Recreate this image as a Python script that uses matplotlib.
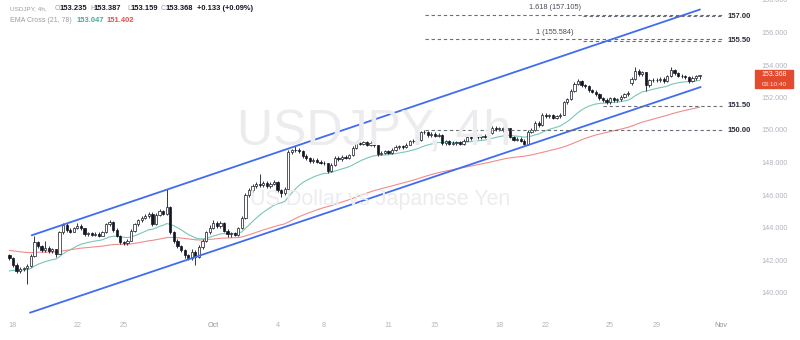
import numpy as np
import matplotlib.pyplot as plt
from matplotlib.patches import Rectangle

plt.rcParams['font.family'] = ['Liberation Sans', 'DejaVu Sans']

# USDJPY 4h closes (bar 0 = Sep 17 late session)
closes = [
    142.10, 141.70, 141.30, 141.45, 141.50, 141.65, 142.25, 143.10, 142.85, 142.60,
    142.75, 142.55, 142.65, 142.40, 143.70, 144.15, 143.85, 143.75, 143.95, 144.10,
    143.95, 143.60, 143.65, 143.55, 143.60, 143.50, 143.70, 144.20, 144.35, 143.85,
    143.50, 143.10, 143.05, 143.20, 143.80, 144.20, 144.45, 144.60, 144.70, 144.85,
    144.20, 144.80, 145.00, 144.85, 145.25, 143.70, 143.20, 142.85, 142.60, 142.30,
    142.10, 142.50, 142.20, 142.80, 143.20, 143.70, 144.00, 144.30, 144.10, 144.30,
    143.80, 143.60, 143.65, 143.55, 143.95, 144.60, 146.00, 146.30, 146.55, 146.65,
    146.60, 146.75, 146.55, 146.70, 146.80, 146.30, 146.10, 146.40, 148.65, 148.75,
    148.80, 148.70, 148.40, 148.25, 148.10, 148.15, 148.05, 148.00, 147.95, 147.45,
    147.85, 148.30, 148.20, 148.35, 148.30, 148.45, 148.90, 149.20, 149.15, 149.25,
    149.10, 149.20, 149.05, 148.55, 148.60, 148.70, 148.60, 148.80, 148.95, 149.00,
    148.95, 149.10, 149.30, 149.35, 149.40, 149.85, 149.90, 149.70, 149.75, 149.65,
    149.70, 149.20, 149.30, 149.15, 149.20, 149.25, 149.15, 149.35, 149.55, 149.50,
    149.60, 149.55, 149.65, 149.60, 149.80, 150.15, 150.05, 150.10, 150.00, 150.10,
    149.60, 149.40, 149.45, 149.35, 149.15, 149.90, 150.00, 150.45, 150.30, 150.95,
    150.85, 150.90, 150.75, 150.85, 150.95, 151.70, 151.90, 152.40, 152.85, 153.00,
    152.75, 152.70, 152.45, 152.35, 152.20, 151.95, 151.85, 151.70, 151.95, 151.85,
    151.90, 152.05, 152.20, 152.30, 153.15, 153.65, 153.45, 153.55, 152.75, 153.05,
    153.10, 153.05, 153.15, 153.00, 153.30, 153.70, 153.50, 153.35, 153.30, 153.25,
    153.00, 153.20, 153.30, 153.368,
]
highs = [
    142.40, 142.20, 141.80, 141.55, 141.60, 141.75, 142.35, 143.50, 143.20, 142.95,
    143.20, 142.85, 142.75, 142.70, 143.80, 144.30, 144.25, 143.95, 144.05, 144.30,
    144.20, 144.00, 143.75, 143.75, 143.70, 143.70, 143.80, 144.30, 144.45, 144.40,
    143.95, 143.55, 143.20, 143.30, 143.90, 144.30, 144.55, 144.70, 144.85, 144.95,
    144.95, 144.90, 145.15, 145.10, 146.40, 145.35, 143.80, 143.30, 142.95, 142.70,
    142.40, 142.65, 142.60, 142.90, 143.30, 143.80, 144.15, 144.45, 144.40, 144.40,
    144.35, 143.90, 143.75, 143.75, 144.05, 144.70, 146.10, 146.45, 146.65, 146.80,
    147.30, 146.85, 146.85, 146.80, 146.95, 146.85, 146.40, 146.50, 148.75, 148.85,
    149.00, 148.90, 148.75, 148.50, 148.35, 148.25, 148.25, 148.15, 148.10, 148.00,
    147.95, 148.40, 148.40, 148.45, 148.45, 148.55, 149.00, 149.30, 149.30, 149.35,
    149.35, 149.30, 149.30, 149.10, 148.70, 148.80, 148.80, 148.90, 149.05, 149.10,
    149.10, 149.20, 149.40, 149.45, 149.55, 149.95, 150.00, 149.95, 149.85, 149.85,
    149.80, 149.75, 149.40, 149.40, 149.30, 149.35, 149.35, 149.45, 149.65, 149.65,
    149.70, 149.70, 149.75, 149.75, 149.90, 150.25, 150.25, 150.20, 150.20, 150.20,
    150.15, 149.65, 149.55, 149.55, 149.45, 150.00, 150.10, 150.55, 150.55, 151.05,
    151.05, 151.00, 151.00, 150.95, 151.05, 151.80, 152.00, 152.50, 152.95, 153.15,
    153.05, 152.85, 152.75, 152.55, 152.45, 152.25, 152.05, 151.95, 152.05, 152.05,
    152.00, 152.15, 152.30, 152.40, 153.25, 153.85, 153.75, 153.65, 153.60, 153.15,
    153.20, 153.20, 153.25, 153.25, 153.40, 153.85, 153.75, 153.55, 153.45, 153.40,
    153.30, 153.30, 153.40, 153.387,
]
lows = [
    142.00, 141.60, 141.20, 141.20, 141.35, 140.50, 141.60, 142.20, 142.75, 142.50,
    142.50, 142.45, 142.45, 142.20, 142.35, 143.60, 143.75, 143.65, 143.70, 143.90,
    143.85, 143.50, 143.50, 143.45, 143.45, 143.40, 143.45, 143.65, 144.10, 143.75,
    143.40, 143.00, 142.95, 142.95, 143.15, 143.75, 144.10, 144.35, 144.50, 144.60,
    144.10, 144.15, 144.70, 144.75, 144.80, 143.60, 143.05, 142.75, 142.50, 142.15,
    142.00, 142.00, 141.70, 142.10, 142.70, 143.10, 143.60, 143.90, 144.00, 144.00,
    143.70, 143.40, 143.40, 143.45, 143.50, 143.90, 144.55, 145.90, 146.20, 146.45,
    146.50, 146.50, 146.45, 146.45, 146.60, 146.20, 145.90, 146.00, 146.35, 148.55,
    148.65, 148.60, 148.30, 148.15, 148.00, 148.00, 147.95, 147.90, 147.85, 147.35,
    147.40, 147.80, 148.10, 148.10, 148.20, 148.20, 148.40, 148.85, 149.05, 149.05,
    149.00, 149.00, 148.95, 148.40, 148.45, 148.50, 148.50, 148.55, 148.70, 148.85,
    148.85, 148.90, 149.05, 149.20, 149.25, 149.35, 149.75, 149.60, 149.60, 149.55,
    149.55, 149.10, 149.10, 149.05, 149.05, 149.10, 149.05, 149.10, 149.30, 149.40,
    149.40, 149.45, 149.45, 149.50, 149.55, 149.75, 149.95, 149.95, 149.90, 149.90,
    149.50, 149.30, 149.30, 149.25, 149.05, 149.10, 149.80, 149.95, 150.20, 150.25,
    150.75, 150.75, 150.65, 150.65, 150.75, 150.90, 151.60, 151.85, 152.35, 152.75,
    152.65, 152.60, 152.35, 152.25, 152.10, 151.85, 151.75, 151.60, 151.60, 151.75,
    151.75, 151.80, 151.95, 152.10, 152.80, 153.10, 153.35, 153.35, 152.40, 152.65,
    152.95, 152.95, 152.95, 152.90, 152.95, 153.25, 153.40, 153.25, 153.20, 153.15,
    152.90, 152.95, 153.10, 153.159,
]
first_open = 142.30
gap_opens = {174: 152.90}          # weekend gap after the Japanese election

# EMA values at the left edge of the chart (history before the window)
ema_fast_seed = 141.25
ema_slow_seed = 142.60

tick_pos = [1, 19, 32, 57, 75, 88, 106, 119, 137, 150, 168, 181, 199]
tick_lab = ["18", "22", "25", "Oct", "4", "8", "11", "15", "18", "22", "25", "29", "Nov"]

# channel trend lines (bar index, price)
upper_x, upper_y = [6.23, 193.12], [143.52, 157.415]
lower_x, lower_y = [5.75, 193.32], [138.757, 152.646]

fib_prices = [157.105, 155.584]
fib_labels = ["1.618 (157.105)", "1 (155.584)"]
level_prices = [157.00, 155.50, 151.50, 150.00]
level_labels = ["157.00", "155.50", "151.50", "150.00"]
level_starts = [160.4, 160.4, 166.0, 116.2]

c = np.array(closes)
o = np.array([first_open] + closes[:-1])
for k, v in gap_opens.items():
    o[k] = v
h = np.array(highs)
l = np.array(lows)
x = np.arange(len(c))


def ema(vals, span, seed):
    a = 2.0 / (span + 1)
    out, e = [], seed
    for v in vals:
        e = e + a * (v - e)
        out.append(e)
    return np.array(out)


ema21 = ema(c, 21, ema_fast_seed)
ema78 = ema(c, 78, ema_slow_seed)

fig = plt.figure(figsize=(8, 3.4), dpi=100)
ax = fig.add_axes([0, 24 / 340, 752 / 800, 316 / 340])
ax.set_xlim(-2.636, 207.67)
ax.set_ylim(158.0 - 316 / 16.25, 158.0)
for s in ax.spines.values():
    s.set_visible(False)

# watermark
fig.text(374 / 800, 1 - 132 / 340, "USDJPY, 4h", fontsize=36, color="#ececee",
         ha="center", va="center", zorder=0)
fig.text(380 / 800, 1 - 199 / 340, "US Dollar vs Japanese Yen", fontsize=15.5,
         color="#ececee", ha="center", va="center", zorder=0)

# EMA cross
ax.plot(x, ema21, color="#79c6b8", lw=0.8, zorder=2)
ax.plot(x, ema78, color="#f08c8c", lw=0.8, zorder=2)

# candles (hollow style)
ink = "#131722"
up = c >= o
ax.vlines(x, l, h, color=ink, lw=0.6, zorder=3)
ax.bar(x[up], (c - o)[up], bottom=o[up], width=0.62, color="white",
       edgecolor=ink, lw=0.5, zorder=4)
ax.bar(x[~up], (o - c)[~up], bottom=c[~up], width=0.62, color=ink,
       edgecolor=ink, lw=0.5, zorder=4)

# channel
ax.plot(upper_x, upper_y, color="#3f6cf2", lw=1.3, zorder=5, solid_capstyle="round")
ax.plot(lower_x, lower_y, color="#3f6cf2", lw=1.3, zorder=5, solid_capstyle="round")

# fib extension + horizontal levels
dash_col = "#6b6e78"
for p, lab in zip(fib_prices, fib_labels):
    ax.plot([116.2, 199.3], [p, p], color=dash_col, lw=0.8, dashes=(3, 2.5), zorder=5)
    ax.text(152.6, p + 0.42, lab, fontsize=5.3, color="#4a4d57", ha="center", va="center")
for p, lab, x0 in zip(level_prices, level_labels, level_starts):
    ax.plot([x0, 199.3], [p, p], color=dash_col, lw=0.8, dashes=(3, 2.5), zorder=5)
    ax.text(200.9, p, lab, fontsize=5.5, color="#2a2e39", ha="left", va="center",
            fontweight="semibold")

# axes ticks
ax.yaxis.tick_right()
yt = np.arange(140, 159, 2)
ax.set_yticks(yt)
ax.set_yticklabels([f"{v:.3f}" for v in yt], fontsize=5.2, color="#b2b5be")
ax.tick_params(axis="y", length=0, pad=7)
ax.set_xticks(tick_pos)
ax.set_xticklabels(tick_lab, fontsize=5.2, color="#b2b5be")
for t in ax.get_xticklabels():
    if t.get_text() in ("Oct", "Nov"):
        t.set_color("#8f939e")
ax.tick_params(axis="x", length=0, pad=4.5)

# last price tag
fig.patches.append(Rectangle((755 / 800, 1 - 88 / 340), 38 / 800, 18 / 340,
                             transform=fig.transFigure, color="#e34a2e", zorder=10))
fig.text(774 / 800, 1 - 75 / 340, "153.368", fontsize=5, color="white",
         ha="center", va="center", zorder=11)
fig.text(774 / 800, 1 - 84 / 340, "03:10:40", fontsize=4.6, color="#fde3dc",
         ha="center", va="center", zorder=11)

# legend header
grey, dark = "#9a9da6", "#131722"
line1 = [("USDJPY, 4h,", 10, grey, "normal", 4.6), ("O", 55, grey, "normal", 5.0),
         ("153.235", 60, dark, "semibold", 5.4), ("H", 90, grey, "normal", 5.0),
         ("153.387", 94, dark, "semibold", 5.4), ("L", 127, grey, "normal", 5.0),
         ("153.159", 131, dark, "semibold", 5.4), ("C", 161, grey, "normal", 5.0),
         ("153.368", 166, dark, "semibold", 5.4),
         ("+0.133 (+0.09%)", 197, dark, "semibold", 5.4)]
for txt, px, col, fw, fs in line1:
    fig.text(px / 800, 1 - 9 / 340, txt, fontsize=fs, color=col, fontweight=fw,
             ha="left", va="center")
line2 = [("EMA Cross (21, 78)", 10, grey, "normal", 5.0),
         ("153.047", 77, "#3fae9c", "semibold", 5.4),
         ("151.402", 107, "#e2524f", "semibold", 5.4)]
for txt, px, col, fw, fs in line2:
    fig.text(px / 800, 1 - 20 / 340, txt, fontsize=fs, color=col, fontweight=fw,
             ha="left", va="center")

fig.savefig("out.png", dpi=100, facecolor="white")
